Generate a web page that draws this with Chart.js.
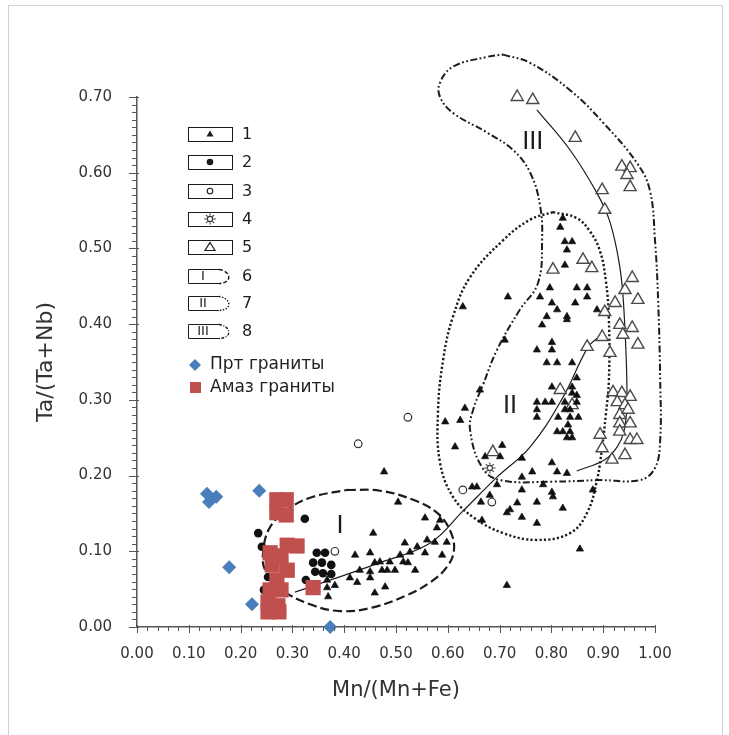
<!DOCTYPE html>
<html><head><meta charset="utf-8">
<script src="https://cdn.jsdelivr.net/npm/chart.js@4.4.1/dist/chart.umd.min.js"></script>
<style>html,body{margin:0;padding:0;background:#fff;}canvas{display:block;}</style>
</head><body>
<canvas id="c" width="729" height="735"></canvas>
<script>
// ---------- tick labels ----------
const xTickValues = [0,0.1,0.2,0.3,0.4,0.5,0.6,0.7,0.8,0.9,1.0];
const xTickLabels = ['0.00','0.10','0.20','0.30','0.40','0.50','0.60','0.70','0.80','0.90','1.00'];
const yTickValues = [0,0.1,0.2,0.3,0.4,0.5,0.6,0.7];
const yTickLabels = ['0.00','0.10','0.20','0.30','0.40','0.50','0.60','0.70'];
const xTitle = 'Mn/(Mn+Fe)';
const yTitle = 'Ta/(Ta+Nb)';
const legendNums = ['1','2','3','4','5','6','7','8'];
const graniteNames = ['Прт граниты','Амаз граниты'];
const fieldLabels = [['I',0.392,0.132],['II',0.720,0.291],['III',0.764,0.639]];

// ---------- series ----------
const tri1 = [[0.456,0.124],[0.421,0.095],[0.450,0.098],[0.517,0.111],[0.541,0.106],[0.560,0.115],[0.575,0.112],[0.598,0.112],[0.579,0.131],[0.527,0.099],[0.556,0.098],[0.589,0.095],[0.508,0.095],[0.488,0.086],[0.469,0.086],[0.459,0.085],[0.514,0.086],[0.523,0.085],[0.430,0.075],[0.450,0.073],[0.473,0.075],[0.483,0.075],[0.498,0.075],[0.537,0.075],[0.450,0.065],[0.411,0.065],[0.425,0.059],[0.367,0.062],[0.382,0.055],[0.367,0.052],[0.369,0.040],[0.459,0.045],[0.479,0.053],[0.504,0.165],[0.556,0.144],[0.477,0.205],[0.585,0.141],
[0.662,0.313],[0.633,0.289],[0.595,0.271],[0.624,0.273],[0.614,0.238],[0.629,0.423],[0.716,0.436],[0.710,0.379],[0.705,0.240],[0.672,0.225],[0.701,0.225],[0.743,0.223],[0.763,0.205],[0.801,0.217],[0.811,0.205],[0.830,0.203],[0.743,0.198],[0.695,0.188],[0.647,0.185],[0.656,0.185],[0.784,0.188],[0.743,0.181],[0.801,0.178],[0.803,0.172],[0.681,0.174],[0.664,0.165],[0.772,0.165],[0.734,0.164],[0.720,0.155],[0.714,0.151],[0.822,0.157],[0.743,0.145],[0.772,0.137],[0.666,0.141],[0.880,0.181],[0.855,0.103],[0.714,0.055],
[0.782,0.399],[0.830,0.406],[0.801,0.376],[0.801,0.366],[0.772,0.366],[0.791,0.349],[0.811,0.349],[0.840,0.349],[0.849,0.329],[0.801,0.317],[0.840,0.317],[0.772,0.297],[0.788,0.297],[0.801,0.297],[0.840,0.309],[0.849,0.306],[0.826,0.297],[0.849,0.297],[0.772,0.287],[0.826,0.287],[0.836,0.287],[0.772,0.277],[0.813,0.277],[0.836,0.277],[0.852,0.277],[0.832,0.267],[0.811,0.258],[0.822,0.258],[0.836,0.258],[0.830,0.250],[0.840,0.250],
[0.822,0.540],[0.817,0.528],[0.826,0.509],[0.840,0.509],[0.830,0.498],[0.826,0.478],[0.797,0.448],[0.778,0.436],[0.849,0.448],[0.869,0.448],[0.869,0.436],[0.846,0.428],[0.801,0.428],[0.811,0.419],[0.888,0.419],[0.791,0.410],[0.830,0.410]];
const dot2 = [[0.234,0.124],[0.241,0.106],[0.253,0.066],[0.245,0.049],[0.324,0.143],[0.347,0.098],[0.363,0.098],[0.340,0.085],[0.357,0.085],[0.375,0.082],[0.344,0.073],[0.359,0.071],[0.375,0.070],[0.326,0.062]];
const ring3 = [[0.427,0.242],[0.523,0.277],[0.382,0.100],[0.629,0.181],[0.685,0.165]];
const gear4 = [[0.681,0.210]];
const otri5 = [[0.710,0.749],[0.627,0.719],[0.687,0.720],[0.734,0.700],[0.764,0.696],[0.846,0.646],[0.936,0.608],[0.952,0.606],[0.946,0.597],[0.952,0.581],[0.898,0.577],[0.903,0.551],[0.861,0.485],[0.878,0.474],[0.803,0.472],[0.956,0.461],[0.942,0.445],[0.967,0.432],[0.923,0.428],[0.903,0.416],[0.932,0.399],[0.956,0.395],[0.938,0.386],[0.898,0.383],[0.967,0.373],[0.869,0.370],[0.913,0.362],[0.817,0.313],[0.919,0.310],[0.936,0.309],[0.952,0.304],[0.927,0.297],[0.942,0.293],[0.932,0.280],[0.948,0.287],[0.932,0.269],[0.952,0.269],[0.894,0.254],[0.932,0.258],[0.952,0.247],[0.898,0.236],[0.965,0.247],[0.942,0.227],[0.917,0.221],[0.687,0.231],[0.840,0.293]];
const prt = [[0.135,0.176],[0.139,0.165],[0.153,0.172],[0.236,0.180],[0.178,0.079],[0.222,0.030],[0.373,0.000]];
const amaz = [[0.270,0.168],[0.288,0.168],[0.270,0.151],[0.288,0.148],[0.290,0.108],[0.309,0.107],[0.257,0.098],[0.278,0.094],[0.261,0.082],[0.290,0.075],[0.270,0.062],[0.257,0.049],[0.278,0.049],[0.253,0.033],[0.272,0.028],[0.253,0.020],[0.274,0.020],[0.340,0.052]];

// ---------- field outlines and trend lines ----------
const fieldI = [[0.405,0.181],[0.469,0.180],[0.533,0.168],[0.579,0.151],[0.604,0.128],[0.612,0.102],[0.598,0.079],[0.566,0.059],[0.521,0.042],[0.456,0.026],[0.392,0.021],[0.334,0.030],[0.280,0.049],[0.249,0.073],[0.243,0.095],[0.257,0.132],[0.299,0.159],[0.340,0.172],[0.405,0.181]];
const fieldII = [[0.803,0.548],[0.849,0.540],[0.875,0.522],[0.894,0.496],[0.905,0.458],[0.911,0.406],[0.911,0.326],[0.905,0.280],[0.898,0.238],[0.888,0.194],[0.869,0.151],[0.836,0.124],[0.772,0.115],[0.707,0.124],[0.649,0.145],[0.610,0.172],[0.585,0.217],[0.581,0.283],[0.591,0.353],[0.610,0.410],[0.643,0.462],[0.707,0.511],[0.759,0.538],[0.803,0.548]];
const fieldIII = [[0.707,0.756],[0.759,0.745],[0.836,0.709],[0.900,0.666],[0.965,0.613],[0.990,0.577],[1.000,0.511],[1.006,0.432],[1.010,0.326],[1.010,0.247],[1.000,0.210],[0.971,0.194],[0.894,0.194],[0.803,0.192],[0.701,0.194],[0.666,0.211],[0.643,0.260],[0.649,0.287],[0.668,0.320],[0.695,0.366],[0.739,0.419],[0.774,0.454],[0.782,0.511],[0.778,0.557],[0.759,0.600],[0.726,0.630],[0.676,0.653],[0.610,0.679],[0.585,0.700],[0.585,0.719],[0.610,0.740],[0.676,0.753],[0.707,0.756]];
const trendA = [[0.305,0.046],[0.373,0.062],[0.469,0.085],[0.566,0.111],[0.629,0.153],[0.695,0.198],[0.759,0.238],[0.822,0.303],[0.871,0.370],[0.895,0.385]];
const trendB = [[0.772,0.683],[0.836,0.630],[0.888,0.573],[0.913,0.535],[0.932,0.476],[0.940,0.419],[0.946,0.300],[0.940,0.258],[0.927,0.238],[0.903,0.221],[0.849,0.206]];

// ---------- styles ----------
const INK = '#1c1c1c';
const AXIS = '#555555';
const BLUE = '#4A7EBB';
const RED = '#C0504D';
const DASH_I = [9,4];
const DASH_II = [2.2,2.2];
const DASH_III = [7,2.5,1.8,2.5,1.8,2.5];
const FONT = 'DejaVu Sans';

function makeGear(){
  const c=document.createElement('canvas'); c.width=14; c.height=14;
  const g=c.getContext('2d'); g.strokeStyle='#333'; g.lineWidth=1.1;
  g.beginPath(); g.arc(7,7,2.6,0,Math.PI*2); g.stroke();
  for(let i=0;i<8;i++){const a=i*Math.PI/4; g.beginPath(); g.moveTo(7+Math.cos(a)*3.4,7+Math.sin(a)*3.4); g.lineTo(7+Math.cos(a)*5.6,7+Math.sin(a)*5.6); g.stroke();}
  return c;
}
const gearImg = makeGear();
const pts = a => a.map(p => ({x:p[0], y:p[1]}));

function lineSet(arr, dash, width, order){
  return {data:pts(arr), showLine:true, pointRadius:0, borderColor:INK, borderWidth:width, borderDash:dash, tension:0.4, fill:false, clip:false, order:order};
}

const decor = {
  id:'decor',
  afterDraw(chart){
    const ctx=chart.ctx, xs=chart.scales.x, ys=chart.scales.y, ca=chart.chartArea;
    ctx.save();
    // frame
    ctx.strokeStyle='#d0d0d0'; ctx.lineWidth=1;
    ctx.strokeRect(8.5,5.5,714,760);
    // ticks
    ctx.strokeStyle=AXIS; ctx.lineWidth=1;
    const y0=ca.bottom, x0=ca.left;
    for(let i=0;i<=50;i++){
      const px=Math.round(xs.getPixelForValue(i/50))+0.5, major=i%5===0;
      ctx.beginPath(); ctx.moveTo(px,y0-(major?2:0)); ctx.lineTo(px,y0+(major?6:4)); ctx.stroke();
    }
    for(let i=0;i<=70;i++){
      const py=Math.round(ys.getPixelForValue(i/100))+0.5, major=i%10===0;
      ctx.beginPath(); ctx.moveTo(x0-(major?8:5),py); ctx.lineTo(x0+(major?2:0),py); ctx.stroke();
    }
    // field numerals
    ctx.fillStyle=INK; ctx.font='24px "'+FONT+'"'; ctx.textAlign='center'; ctx.textBaseline='middle';
    fieldLabels.forEach(f=>ctx.fillText(f[0], xs.getPixelForValue(f[1]), ys.getPixelForValue(f[2])));
    // legend boxes
    const rowY=[134,162,191,219,247,276,303,331];
    const bx=188, bw=44, bh=14;
    ctx.strokeStyle=INK; ctx.lineWidth=1;
    rowY.forEach((cy,i)=>{
      const top=Math.round(cy-bh/2)+0.5, bot=top+bh;
      ctx.setLineDash([]);
      if(i<5){
        ctx.strokeRect(bx+0.5,top,bw,bh);
      } else {
        ctx.beginPath(); ctx.moveTo(bx+31,top); ctx.lineTo(bx+0.5,top); ctx.lineTo(bx+0.5,bot); ctx.lineTo(bx+31,bot); ctx.stroke();
        ctx.setLineDash(i===5?[4,2]:(i===6?[1.5,1.5]:[3,1.5,1,1.5]));
        ctx.lineWidth=1.4;
        ctx.beginPath(); ctx.moveTo(bx+31,top); ctx.bezierCurveTo(bx+42,top+1,bx+46,bot-1,bx+31,bot); ctx.stroke();
        ctx.lineWidth=1; ctx.setLineDash([]);
        ctx.font='13px "'+FONT+'"'; ctx.fillStyle=INK; ctx.textAlign='center'; ctx.textBaseline='middle';
        ctx.fillText(['I','II','III'][i-5], bx+15, cy+0.5);
      }
      const sx=bx+22;
      ctx.fillStyle=INK;
      if(i===0){ctx.beginPath(); ctx.moveTo(sx,cy-3.5); ctx.lineTo(sx+3.5,cy+2.5); ctx.lineTo(sx-3.5,cy+2.5); ctx.closePath(); ctx.fill();}
      if(i===1){ctx.beginPath(); ctx.arc(sx,cy,3.3,0,Math.PI*2); ctx.fill();}
      if(i===2){ctx.beginPath(); ctx.arc(sx,cy,2.8,0,Math.PI*2); ctx.lineWidth=1.1; ctx.stroke(); ctx.lineWidth=1;}
      if(i===3){ctx.drawImage(gearImg,sx-7,cy-7);}
      if(i===4){ctx.beginPath(); ctx.moveTo(sx,cy-4.5); ctx.lineTo(sx+5,cy+3.5); ctx.lineTo(sx-5,cy+3.5); ctx.closePath(); ctx.lineWidth=1.2; ctx.stroke(); ctx.lineWidth=1;}
      ctx.font='16px "'+FONT+'"'; ctx.fillStyle=INK; ctx.textAlign='left'; ctx.textBaseline='middle';
      ctx.fillText(legendNums[i], 242, cy+1);
    });
    // granite legend
    ctx.fillStyle=BLUE; ctx.beginPath(); ctx.moveTo(195,359); ctx.lineTo(201,365); ctx.lineTo(195,371); ctx.lineTo(189,365); ctx.closePath(); ctx.fill();
    ctx.fillStyle=RED; ctx.fillRect(190,382,11,11);
    ctx.font='17px "'+FONT+'"'; ctx.fillStyle='#222'; ctx.textAlign='left'; ctx.textBaseline='middle';
    ctx.fillText(graniteNames[0], 210, 365);
    ctx.fillText(graniteNames[1], 210, 388);
    ctx.restore();
  }
};

new Chart(document.getElementById('c'), {
  type:'scatter',
  data:{datasets:[
    {data:pts(amaz), pointStyle:'rect', pointRadius:10.8, backgroundColor:RED, borderColor:RED, borderWidth:0, clip:false, order:0},
    {data:pts(prt), pointStyle:'rectRot', pointRadius:7, backgroundColor:BLUE, borderColor:BLUE, borderWidth:0, clip:false, order:1},
    {data:pts(tri1), pointStyle:'triangle', pointRadius:4.2, backgroundColor:'#111', borderColor:'#111', borderWidth:0.7, clip:false, order:2},
    {data:pts(dot2), pointStyle:'circle', pointRadius:4.3, backgroundColor:'#111', borderColor:'#111', borderWidth:0, clip:false, order:2},
    {data:pts(ring3), pointStyle:'circle', pointRadius:3.8, backgroundColor:'#fff', borderColor:'#333', borderWidth:1.2, clip:false, order:2},
    {data:pts(gear4), pointStyle:gearImg, pointRadius:6, clip:false, order:2},
    {data:pts(otri5), pointStyle:'triangle', pointRadius:7, backgroundColor:'#fff', borderColor:'#4a4a4a', borderWidth:1.4, clip:false, order:3},
    lineSet(trendA, [], 1.2, 4),
    lineSet(trendB, [], 1.2, 4),
    lineSet(fieldI, DASH_I, 2.2, 5),
    lineSet(fieldII, DASH_II, 2.4, 5),
    lineSet(fieldIII, DASH_III, 2, 5)
  ]},
  options:{
    responsive:false, animation:false, events:[],
    layout:{padding:{left:30, right:74, top:97, bottom:28}},
    plugins:{legend:{display:false}, tooltip:{enabled:false}},
    scales:{
      x:{type:'linear', min:0, max:1,
        afterBuildTicks:s=>{s.ticks=xTickValues.map(v=>({value:v}));},
        afterFit:s=>{s.height=80;},
        ticks:{callback:(v,i)=>xTickLabels[i], font:{family:FONT,size:15}, color:'#333', padding:18, maxRotation:0, autoSkip:false},
        grid:{display:false, drawTicks:false},
        border:{color:AXIS, width:1.5},
        title:{display:true, text:xTitle, font:{family:FONT,size:21}, color:'#333', padding:{top:0,bottom:4}}
      },
      y:{type:'linear', min:0, max:0.7,
        afterBuildTicks:s=>{s.ticks=yTickValues.map(v=>({value:v}));},
        afterFit:s=>{s.width=107;},
        ticks:{callback:(v,i)=>yTickLabels[i], font:{family:FONT,size:15}, color:'#333', padding:25, autoSkip:false},
        grid:{display:false, drawTicks:false},
        border:{color:AXIS, width:1.5},
        title:{display:true, text:yTitle, font:{family:FONT,size:22}, color:'#333', padding:{top:3,bottom:0}}
      }
    }
  },
  plugins:[decor]
});
</script>
</body></html>
